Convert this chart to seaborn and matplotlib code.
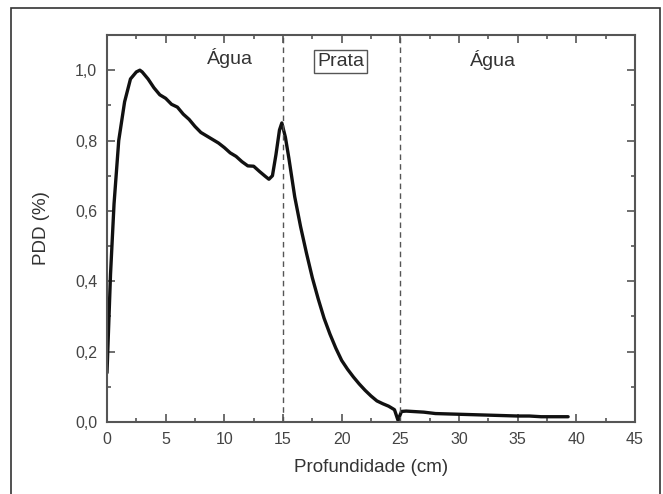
import numpy as np
import pandas as pd
import matplotlib
matplotlib.use('Agg')
import matplotlib.pyplot as plt
import seaborn as sns
from matplotlib.ticker import MultipleLocator, FuncFormatter
from matplotlib.patches import Rectangle

# profundidade (cm) e PDD
profundidade = [0.0, 0.3, 0.6, 1.0, 1.5, 2.0, 2.5, 2.8, 3.0, 3.5, 4.0, 4.5, 5.0,
                5.5, 6.0, 6.5, 7.0, 7.5, 8.0, 8.5, 9.0, 9.5, 10.0, 10.5, 11.0,
                11.5, 12.0, 12.5, 13.0, 13.5, 13.8, 14.1, 14.4, 14.7, 14.9,
                15.2, 15.5, 16.0, 16.5, 17.0, 17.5, 18.0, 18.5, 19.0, 19.5,
                20.0, 20.5, 21.0, 21.5, 22.0, 22.5, 23.0, 23.5, 24.0, 24.5,
                24.8, 25.1, 25.5, 26.0, 27.0, 28.0, 29.0, 30.0, 31.0, 32.0,
                33.0, 34.0, 35.0, 36.0, 37.0, 38.0, 39.3]
pdd = [0.14, 0.42, 0.62, 0.80, 0.91, 0.975, 0.995, 1.0, 0.995, 0.975, 0.95,
       0.93, 0.92, 0.903, 0.895, 0.875, 0.86, 0.84, 0.823, 0.813, 0.803,
       0.793, 0.78, 0.765, 0.755, 0.74, 0.728, 0.727, 0.712, 0.698, 0.69,
       0.70, 0.76, 0.83, 0.85, 0.81, 0.75, 0.64, 0.555, 0.48, 0.41, 0.35,
       0.295, 0.25, 0.21, 0.175, 0.15, 0.128, 0.108, 0.09, 0.074, 0.06,
       0.052, 0.045, 0.035, 0.005, 0.03, 0.031, 0.03, 0.028, 0.024, 0.023,
       0.022, 0.021, 0.02, 0.019, 0.018, 0.017, 0.017, 0.015, 0.015, 0.015]

interfaces = [15, 25]
regioes = ['Água', 'Prata', 'Água']
regioes_x = [10.5, 19.9, 32.9]
regioes_y = [1.034, 1.024, 1.03]

df = pd.DataFrame({'Profundidade': profundidade, 'PDD': pdd})

sns.set_style('ticks')
plt.rcParams['font.family'] = ['Liberation Sans', 'DejaVu Sans']

fig = plt.figure(figsize=(6.63, 4.94), dpi=100)
ax = fig.add_axes([107 / 663, 1 - 422 / 494, (635 - 107) / 663, (422 - 35) / 494])

# moldura externa
fig.patches.append(Rectangle((11 / 663, -0.05), (660 - 11) / 663, 1.05 - 8 / 494,
                             transform=fig.transFigure, fill=False,
                             edgecolor='#333333', linewidth=1.2))

sns.lineplot(data=df, x='Profundidade', y='PDD', ax=ax, color='#111111',
             linewidth=2.4)

for xi in interfaces:
    ax.axvline(xi, color='#555555', linestyle=(0, (4, 3)), linewidth=1)

for txt, tx, ty in zip(regioes, regioes_x, regioes_y):
    if txt == 'Prata':
        ax.text(tx, ty, txt, ha='center', va='center', fontsize=14, color='#333333',
                bbox=dict(boxstyle='square,pad=0.15', facecolor='white',
                          edgecolor='#555555', linewidth=1))
    else:
        ax.text(tx, ty, txt, ha='center', va='center', fontsize=14, color='#333333')

ax.set_xlim(0, 45)
ax.set_ylim(0, 1.1)
ax.xaxis.set_major_locator(MultipleLocator(5))
ax.xaxis.set_minor_locator(MultipleLocator(2.5))
ax.yaxis.set_major_locator(MultipleLocator(0.2))
ax.yaxis.set_minor_locator(MultipleLocator(0.1))
ax.yaxis.set_major_formatter(FuncFormatter(lambda v, p: f'{v:.1f}'.replace('.', ',')))
ax.tick_params(which='both', direction='in', top=True, right=True,
               color='#555555', labelcolor='#444444', labelsize=11.5, pad=7)
ax.tick_params(which='major', length=6, width=1.2)
ax.tick_params(which='minor', length=3, width=1.2)
for s in ax.spines.values():
    s.set_color('#555555')
    s.set_linewidth(1.5)

ax.set_xlabel('Profundidade (cm)', fontsize=13.5, color='#333333', labelpad=9)
ax.set_ylabel('PDD (%)', fontsize=13.5, color='#333333', labelpad=18)

fig.savefig('out.png', dpi=100)
